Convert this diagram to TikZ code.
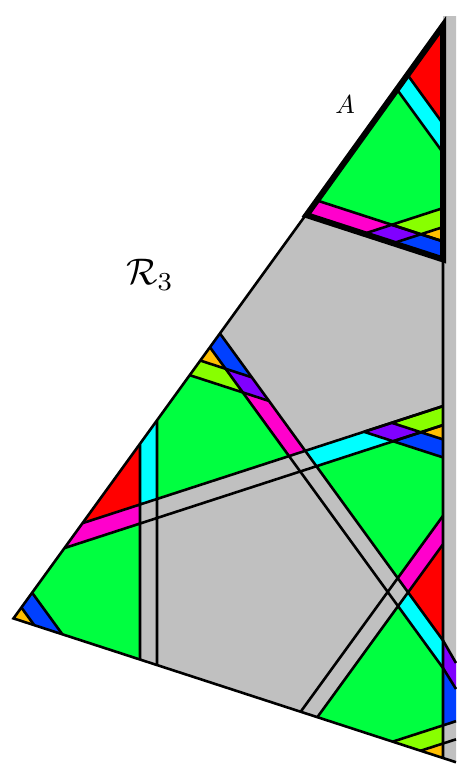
\documentclass[tikz,border=0pt]{standalone}
\definecolor{cgray}{RGB}{192,192,192}
\definecolor{cgrn}{RGB}{0,255,64}
\definecolor{cred}{RGB}{255,0,0}
\definecolor{ccyn}{RGB}{0,255,255}
\definecolor{cmag}{RGB}{255,0,204}
\definecolor{cvio}{RGB}{128,0,255}
\definecolor{clim}{RGB}{136,255,0}
\definecolor{corg}{RGB}{255,191,0}
\definecolor{cblu}{RGB}{0,64,255}
\begin{document}
\begin{tikzpicture}[x=1pt, y=-1pt, line width=2.6pt,
  heavy/.style={line width=6pt}]
\useasboundingbox (0,0) rectangle (456,771);
% outer triangle and the strip beyond QR
\coordinate (P) at (13.5,618.4); \coordinate (Q) at (443,25.5); \coordinate (R) at (443,758);
\coordinate (st1) at (443,16); \coordinate (st2) at (456,16); \coordinate (st3) at (456,762.2);
\fill[cgray] (P)--(Q)--(R)--cycle;
\fill[cgray] (st1)--(st2)--(st3)--(R)--cycle;
% triangle A
\coordinate (A1) at (306.5,215.1);
\coordinate (r1) at (408,75.5); \coordinate (r2) at (443,123.7);
\coordinate (c1) at (397.4,90); \coordinate (c2) at (443,152.7);
\coordinate (m1) at (317.1,200.5);
% corner pattern: in A (t) and 198 lower on QR (w)
\foreach \s/\dy in {t/0,w/198} {
  \coordinate (\s1) at (364,{233.8+\dy});   \coordinate (\s2) at (391.7,{224.8+\dy});
  \coordinate (\s3) at (443,{208.1+\dy});   \coordinate (\s4) at (393.2,{243.2+\dy});
  \coordinate (\s5) at (420.9,{234.3+\dy}); \coordinate (\s6) at (443,{227.1+\dy});
  \coordinate (\s7) at (443,{241.4+\dy});   \coordinate (\s8) at (443,{259.4+\dy});
}
% corner at K
\coordinate (K) at (220.2,333.8); \coordinate (k1) at (210.2,347.6);
\coordinate (k2) at (200.7,360.7); \coordinate (k3) at (190.1,375.3);
\coordinate (k4) at (225.6,368.8); \coordinate (k5) at (242.8,392.5);
\coordinate (k6) at (251.8,377.3); \coordinate (k7) at (268.9,400.9);
% bands
\coordinate (u1L) at (82.7,523.1); \coordinate (u2L) at (64.7,548);
\coordinate (v1L) at (140,444.3); \coordinate (v2L) at (157,420.9);
\coordinate (v1B) at (140,659.5); \coordinate (v2B) at (157,665);
\coordinate (x11) at (140,504.5); \coordinate (x12) at (157,499); \coordinate (x21) at (140,523.5);
\coordinate (d1u1) at (305.2,450.8); \coordinate (d2u1) at (289,456.1); \coordinate (d1u2) at (316.4,466.2);
\coordinate (e1B) at (300.7,711.7); \coordinate (e2B) at (317.4,717.1);
\coordinate (e1R) at (443,515.8); \coordinate (e2R) at (443,544.3);
\coordinate (d1R) at (443,640.4); \coordinate (d2R) at (443,668);
\coordinate (d1e1) at (397.7,578.1); \coordinate (d1e2) at (408.1,592.4); \coordinate (d2e2) at (398,606.1);
% corners P and R, and the strip
\coordinate (p1) at (21.4,607.5); \coordinate (p2) at (34.2,625.1);
\coordinate (p3) at (32.2,592.8); \coordinate (p4) at (62.3,634.2);
\coordinate (q1) at (392.9,741.6); \coordinate (q2) at (443,725.4);
\coordinate (q3) at (420.7,750.7); \coordinate (q4) at (443,743.5);
\coordinate (f1) at (456,663); \coordinate (f2) at (456,689);
\coordinate (f3) at (456,721.2); \coordinate (f4) at (456,739.3);

% green
\fill[cgrn] (c1)--(m1)--(t2)--(t3)--(c2)--cycle;
\fill[cgrn] (p3)--(u2L)--(x21)--(v1B)--(p4)--cycle;
\fill[cgrn] (v2L)--(k3)--(k5)--(d2u1)--(x12)--cycle;
\fill[cgrn] (d1u2)--(w4)--(w8)--(e1R)--(d1e1)--cycle;
\fill[cgrn] (e2B)--(d2e2)--(d2R)--(q2)--(q1)--cycle;
% red
\fill[cred] (Q)--(r1)--(r2)--cycle;
\fill[cred] (u1L)--(v1L)--(x11)--cycle;
\fill[cred] (d1e2)--(e2R)--(d1R)--cycle;
% cyan
\fill[ccyn] (r1)--(c1)--(c2)--(r2)--cycle;
\fill[ccyn] (v1L)--(v2L)--(x12)--(x11)--cycle;
\fill[ccyn] (d1u1)--(w1)--(w4)--(d1u2)--cycle;
\fill[ccyn] (d1e2)--(d1R)--(d2R)--(d2e2)--cycle;
% magenta
\fill[cmag] (m1)--(A1)--(t1)--(t2)--cycle;
\fill[cmag] (u1L)--(u2L)--(x21)--(x11)--cycle;
\fill[cmag] (k5)--(k7)--(d1u1)--(d2u1)--cycle;
\fill[cmag] (e1R)--(e2R)--(d1e2)--(d1e1)--cycle;
% the small pieces
\foreach \s in {t,w} {
  \fill[cvio] (\s2)--(\s1)--(\s4)--(\s5)--cycle;
  \fill[clim] (\s2)--(\s3)--(\s6)--(\s5)--cycle;
  \fill[corg] (\s5)--(\s6)--(\s7)--cycle;
  \fill[cblu] (\s4)--(\s5)--(\s7)--(\s8)--cycle;
}
\fill[cvio] (k4)--(k5)--(k7)--(k6)--cycle;
\fill[clim] (k2)--(k3)--(k5)--(k4)--cycle;
\fill[corg] (k1)--(k2)--(k4)--cycle;
\fill[cblu] (K)--(k1)--(k4)--(k6)--cycle;
\fill[corg] (P)--(p1)--(p2)--cycle;
\fill[cblu] (p1)--(p3)--(p4)--(p2)--cycle;
\fill[clim] (q1)--(q2)--(q4)--(q3)--cycle;
\fill[corg] (q3)--(q4)--(R)--cycle;
\fill[cvio] (d1R)--(f1)--(f2)--(d2R)--cycle;
\fill[cblu] (d2R)--(f2)--(f3)--(q2)--cycle;

% lines
\draw (P)--(Q)--(R)--cycle (R)--(st3);
\draw (v1L)--(v1B) (v2L)--(v2B) (u1L)--(w3) (u2L)--(w6);
\draw (K)--(d1R)--(f1) (k1)--(d2R)--(f2) (e1B)--(e1R) (e2B)--(e2R);
\draw (k3)--(k7) (k2)--(k6) (m1)--(t7) (r1)--(r2) (c1)--(c2);
\foreach \s in {t,w}
  \draw (\s1)--(\s3) (\s4)--(\s6) (\s2)--(\s7) (\s1)--(\s8);
\draw (p1)--(p2) (p3)--(p4) (q1)--(q2)--(f3) (q3)--(q4)--(f4);
\draw[heavy] (Q)--(A1)--(t8)--cycle;

\node[scale=2.6] (labA) at (345,105) {$A$};
\node[scale=3.7] (labR) at (150,275) {$\mathcal{R}_3$};
\end{tikzpicture}
\end{document}
